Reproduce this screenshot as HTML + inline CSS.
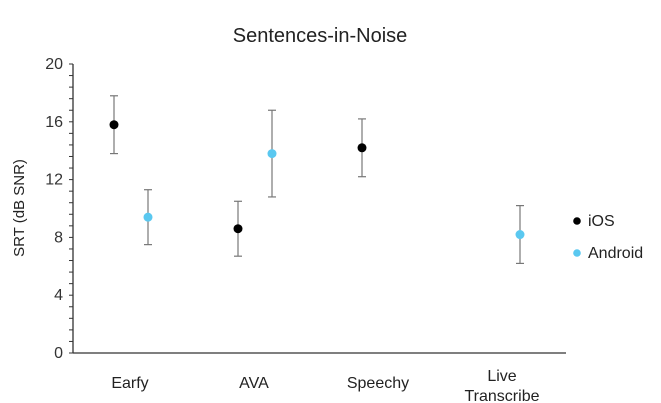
<!DOCTYPE html>
<html><head><meta charset="utf-8"><style>
body{margin:0;background:#fff;}
svg{display:block;font-family:"Liberation Sans",sans-serif;}
</style></head><body>
<svg id="c" width="661" height="403">
<text x="320" y="42" font-size="20" text-anchor="middle" fill="#222">Sentences-in-Noise</text>
<text transform="translate(24,208) rotate(-90)" font-size="15" text-anchor="middle" fill="#222">SRT (dB SNR)</text>
<g id="ax"></g><g id="marks"></g>
<g>
<circle cx="577" cy="221" r="3.8" fill="#000"/>
<text x="588" y="226" font-size="16" fill="#222">iOS</text>
<circle cx="577" cy="253" r="3.8" fill="#5ac8f0"/>
<text x="588" y="258" font-size="16" fill="#222">Android</text>
</g>
</svg>
<script>
const categories=["Earfy","AVA","Speechy","Live|Transcribe"];
const iosValues=[15.8,8.6,14.2,null];
const iosErrors=[2.0,1.9,2.0,null];
const androidValues=[9.4,13.8,null,8.2];
const androidErrors=[1.9,3.0,null,2.0];
const yTicks=[0,4,8,12,16,20];
const NS="http://www.w3.org/2000/svg";
const y0=353,y1=64,xL=73,xR=566;
const yS=v=>y0-(v/20)*(y0-y1);
const xS=i=>130+i*124;
function mk(t,a,p){const e=document.createElementNS(NS,t);for(const k in a)e.setAttribute(k,a[k]);p.appendChild(e);return e;}
const ax=document.getElementById('ax'),mg=document.getElementById('marks');
const yl=mk('line',{x1:xL,y1:y1,x2:xL,y2:y0,stroke:'#333','stroke-width':1.3},ax);


const xl=mk('line',{x1:xL,y1:y0,x2:xR,y2:y0,stroke:'#333','stroke-width':1.3},ax);


for(let v=0;v<=20.001;v+=0.8){mk('line',{x1:xL-4,y1:yS(v),x2:xL,y2:yS(v),stroke:'#333','stroke-width':1},ax);}
yTicks.forEach(v=>{const t=mk('text',{x:xL-10,y:yS(v)+5,'font-size':16,'text-anchor':'end',fill:'#333'},ax);t.textContent=v;

});
categories.forEach((c,i)=>{const parts=c.split('|');const t=mk('text',{'font-size':16,'text-anchor':'middle',fill:'#222'},ax);


const base=parts.length>1?381:388;parts.forEach((p,j)=>{const s=mk('tspan',{x:xS(i),y:base+j*20},t);s.textContent=p;});});
function series(vals,errs,off,col,name){vals.forEach((v,i)=>{if(v==null)return;const x=xS(i)+off;
const g=mk('g',{},mg);


const e=errs[i];mk('line',{x1:x,y1:yS(v+e),x2:x,y2:yS(v-e),stroke:'#777','stroke-width':1.2},g);
[v+e,v-e].forEach(w=>mk('line',{x1:x-4,y1:yS(w),x2:x+4,y2:yS(w),stroke:'#777','stroke-width':1.2},g));
mk('circle',{cx:x,cy:yS(v),r:4.5,fill:col},g);});}
series(iosValues,iosErrors,-16,'#000','ios');
series(androidValues,androidErrors,18,'#5ac8f0','android');
</script>
</body></html>
